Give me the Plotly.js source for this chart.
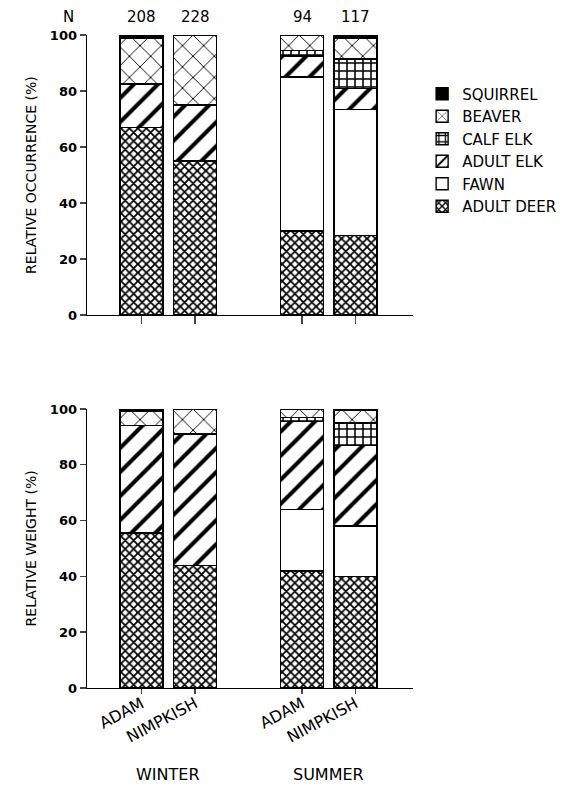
<!DOCTYPE html>
<html>
<head>
<meta charset="utf-8">
<script src="https://cdn.plot.ly/plotly-3.0.1.min.js"></script>
<style>html,body{margin:0;padding:0;background:#fff;}#chart{width:580px;height:790px;}</style>
</head>
<body>
<div id="chart"></div>
<script>
// ---- data ----
const seasons = ["WINTER", "SUMMER"];
const sites = ["ADAM", "NIMPKISH"];
const nValues = [208, 228, 94, 117]; // winter adam, winter nimpkish, summer adam, summer nimpkish
const preyTypes = ["ADULT DEER", "FAWN", "ADULT ELK", "CALF ELK", "BEAVER", "SQUIRREL"];

// relative occurrence (%)
const occAdultDeer = [67, 55, 30, 28.5];
const occFawn      = [0, 0, 55, 45];
const occAdultElk  = [15.5, 20, 7.5, 7.5];
const occCalfElk   = [0, 0, 2, 10.5];
const occBeaver    = [16.5, 25, 5.5, 7.5];
const occSquirrel  = [1, 0, 0, 1];

// relative weight (%)
const wtAdultDeer = [55.5, 44, 42, 40];
const wtFawn      = [0, 0, 22, 18];
const wtAdultElk  = [38.5, 47, 31.5, 29];
const wtCalfElk   = [0, 0, 1.5, 8];
const wtBeaver    = [5, 9, 3, 4.5];
const wtSquirrel  = [1, 0, 0, 0.5];

const yTicks = [0, 20, 40, 60, 80, 100];

// ---- build ----
const xPos = [], xText = [];
seasons.forEach((s, si) => sites.forEach((c, ci) => { xPos.push(si * 3 + ci); xText.push(c); }));

const styles = {
  "ADULT DEER": {shape: "x", size: 6, solidity: 0.5},
  "FAWN": null,
  "ADULT ELK": {shape: "/", size: 17, solidity: 0.24},
  "CALF ELK": {shape: "+", size: 8, solidity: 0.35},
  "BEAVER": {shape: "x", size: 15, solidity: 0.12},
  "SQUIRREL": "solid"
};

const occ = [occAdultDeer, occFawn, occAdultElk, occCalfElk, occBeaver, occSquirrel];
const wt  = [wtAdultDeer, wtFawn, wtAdultElk, wtCalfElk, wtBeaver, wtSquirrel];

function makeTrace(name, vals, xa, ya, show) {
  const st = styles[name];
  const marker = {color: "#ffffff", line: {color: "#000", width: 1.4}};
  if (st === "solid") marker.color = "#000000";
  else if (st) marker.pattern = {shape: st.shape, size: st.size, solidity: st.solidity, fgcolor: "#000", bgcolor: "#fff", fillmode: "replace"};
  return {type: "bar", name: name, x: xPos, y: vals, xaxis: xa, yaxis: ya, width: 0.8,
          marker: marker, showlegend: show, legendgroup: name, hoverinfo: "skip"};
}

const data = [];
preyTypes.forEach((p, i) => data.push(makeTrace(p, occ[i], "x", "y", true)));
preyTypes.forEach((p, i) => data.push(makeTrace(p, wt[i], "x2", "y2", false)));

const FAM = "DejaVu Sans, sans-serif";
const font = {family: FAM, size: 16, color: "#000"};
const xRange = [-1.02, 5.075];
const baseY = {range: [0, 100], tickvals: yTicks, ticks: "outside", ticklen: 6, tickwidth: 1.4,
  showline: true, linecolor: "#000", linewidth: 1.4, showgrid: false, zeroline: false,
  tickfont: {family: FAM, size: 13, color: "#000", weight: "bold"}, fixedrange: true};
const baseX = {range: xRange, tickvals: xPos, ticktext: xText, ticks: "outside", ticklen: 8, tickwidth: 1.4,
  showline: true, linecolor: "#000", linewidth: 1.4, showgrid: false, zeroline: false, fixedrange: true};

const annotations = [];
nValues.forEach((n, i) => annotations.push({xref: "x", yref: "paper", x: xPos[i], y: 1.027, text: String(n),
  showarrow: false, font: {family: FAM, size: 15, color: "#000"}, xanchor: "center", yanchor: "middle"}));
annotations.push({xref: "paper", yref: "paper", x: -0.035, y: 1.027, text: "N", showarrow: false,
  font: {family: FAM, size: 15, color: "#000"}, xanchor: "right", yanchor: "middle"});
seasons.forEach((s, si) => annotations.push({xref: "x2", yref: "paper", x: si * 3 + 0.5, y: -0.133, text: s,
  showarrow: false, font: font, xanchor: "center", yanchor: "middle"}));
annotations.push({xref: "paper", yref: "paper", x: -0.172, y: 0.7856, text: "RELATIVE OCCURRENCE (%)", textangle: -90,
  showarrow: false, font: {family: FAM, size: 14, color: "#000"}, xanchor: "center", yanchor: "middle"});
annotations.push({xref: "paper", yref: "paper", x: -0.172, y: 0.2136, text: "RELATIVE WEIGHT (%)", textangle: -90,
  showarrow: false, font: {family: FAM, size: 14, color: "#000"}, xanchor: "center", yanchor: "middle"});

const layout = {
  width: 580, height: 790,
  margin: {l: 87, r: 167, t: 35, b: 102},
  paper_bgcolor: "#fff", plot_bgcolor: "#fff",
  font: font,
  barmode: "stack",
  xaxis: Object.assign({}, baseX, {anchor: "y", showticklabels: false}),
  yaxis: Object.assign({}, baseY, {domain: [0.5712, 1], anchor: "x"}),
  xaxis2: Object.assign({}, baseX, {anchor: "y2", showticklabels: true, tickangle: -28, ticklen: 5,
    ticklabelstandoff: -6, tickfont: {family: FAM, size: 16, color: "#000"}}),
  yaxis2: Object.assign({}, baseY, {domain: [0, 0.4273], anchor: "x2"}),
  legend: {x: 1.028, y: 0.935, xanchor: "left", yanchor: "top", traceorder: "reversed",
    font: {family: FAM, size: 15, color: "#000"}, bgcolor: "rgba(0,0,0,0)", tracegroupgap: 0},
  annotations: annotations,
  showlegend: true
};

Plotly.newPlot("chart", data, layout, {displayModeBar: false, staticPlot: true});
</script>
</body>
</html>
